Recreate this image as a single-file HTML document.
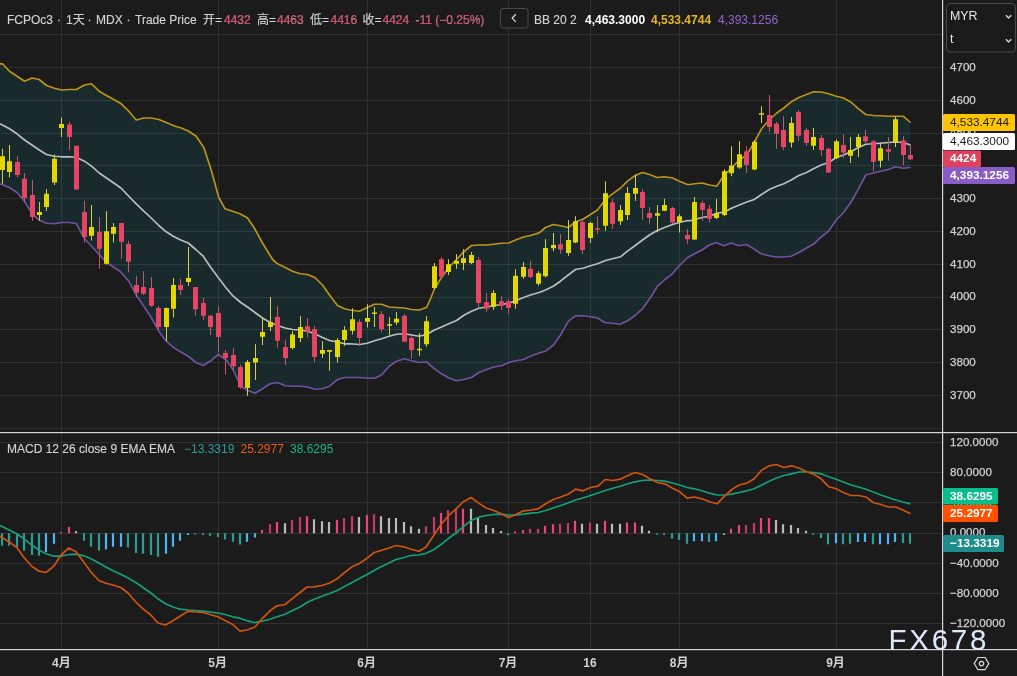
<!DOCTYPE html>
<html lang="zh"><head><meta charset="utf-8"><title>FCPOc3 chart</title>
<style>
html,body{margin:0;padding:0;background:#1b1b1b;}
body{width:1017px;height:676px;overflow:hidden;position:relative;font-family:"Liberation Sans","Noto Sans CJK SC",sans-serif;}
svg{position:absolute;left:0;top:0;display:block}
text{font-family:"Liberation Sans","Noto Sans CJK SC",sans-serif;}
.ax{font-size:11.6px;fill:#d0d0d0;stroke:#d0d0d0;stroke-width:0.25px}
.lg{font-size:12px;fill:#d2d2d2;stroke:#d2d2d2;stroke-width:0.15px}
.tm{font-size:12px;fill:#d2d2d2;font-weight:bold;text-anchor:middle}
.lb{font-size:11.6px;font-weight:bold;fill:#fff}
</style></head><body>
<svg width="1017" height="676" viewBox="0 0 1017 676">
<rect width="1017" height="676" fill="#1b1b1b"/>

<path d="M0,34.5H942 M0,67.5H942 M0,100.5H942 M0,133.5H942 M0,165.5H942 M0,198.5H942 M0,231.5H942 M0,264.5H942 M0,297.5H942 M0,329.5H942 M0,362.5H942 M0,395.5H942 M0,428.5H942 M0,442.5H942 M0,472.5H942 M0,502.5H942 M0,533.5H942 M0,563.5H942 M0,593.5H942 M0,623.5H942 M61.5,0V649 M218.5,0V649 M367.5,0V649 M508.5,0V649 M590.5,0V649 M679.5,0V649 M836.5,0V649" stroke="#303030" stroke-width="1" fill="none"/>
<clipPath id="cm"><rect x="0" y="0" width="942" height="432"/></clipPath>
<clipPath id="cd"><rect x="0" y="433" width="942" height="216"/></clipPath>
<g clip-path="url(#cm)">
<path d="M0.0,63.8 L2.5,63.8 L9.5,71.2 L17.0,76.2 L24.5,81.2 L32.0,78.0 L39.2,79.5 L46.5,85.5 L54.2,88.2 L61.5,90.0 L69.2,89.5 L76.5,89.5 L84.5,85.0 L91.5,83.8 L99.2,91.2 L106.5,95.5 L113.8,99.5 L121.2,103.8 L128.8,111.2 L136.2,120.0 L143.8,118.0 L151.2,118.0 L158.8,119.5 L166.2,122.5 L173.8,125.8 L181.2,128.0 L188.8,131.2 L196.2,136.2 L203.8,147.5 L211.2,170.0 L218.8,197.5 L225.0,208.8 L232.5,211.2 L240.0,213.8 L247.5,218.0 L254.0,227.5 L261.9,242.0 L268.6,253.0 L273.0,260.0 L277.5,263.8 L285.2,267.5 L292.5,271.2 L300.2,273.8 L307.5,274.5 L314.8,277.5 L322.5,285.0 L329.5,295.0 L337.5,305.5 L344.5,308.8 L350.0,310.0 L359.5,311.2 L367.2,307.5 L374.5,304.2 L381.5,304.2 L389.2,307.0 L396.5,307.5 L404.5,308.0 L411.5,309.5 L419.2,310.0 L426.5,307.5 L430.0,300.0 L434.5,288.8 L441.5,277.5 L448.8,267.5 L456.5,259.5 L463.5,252.0 L471.5,245.5 L478.8,245.0 L486.5,245.0 L493.5,244.2 L501.5,243.2 L508.8,243.0 L515.5,240.0 L523.5,237.0 L530.5,235.5 L539.2,232.9 L545.5,227.5 L553.2,224.5 L560.5,225.8 L568.2,227.5 L575.5,222.0 L582.8,219.2 L590.5,214.5 L597.5,210.0 L605.5,199.2 L612.5,193.8 L620.5,188.0 L627.5,181.2 L635.2,175.5 L642.5,172.5 L649.5,174.5 L657.2,177.5 L664.5,176.8 L672.5,178.0 L679.5,181.2 L687.5,184.5 L690.0,184.5 L694.5,183.8 L702.2,183.0 L709.5,185.0 L716.8,186.2 L724.2,175.0 L731.5,168.0 L739.2,160.0 L746.8,155.0 L754.2,142.5 L761.5,128.8 L769.2,120.0 L776.8,113.0 L783.8,108.0 L791.2,101.8 L798.8,97.5 L806.5,94.5 L813.5,91.8 L821.2,92.0 L828.5,93.8 L836.2,96.2 L843.5,98.0 L850.8,102.0 L858.5,108.8 L865.8,114.5 L873.5,115.5 L880.5,115.8 L888.5,116.2 L895.5,116.2 L903.2,116.2 L910.5,122.5 L910.5,167.5 L903.2,168.2 L895.5,166.8 L888.5,169.5 L880.5,171.2 L873.5,173.0 L865.8,175.0 L858.5,188.8 L850.8,202.5 L843.5,212.5 L836.2,220.0 L828.5,231.2 L818.8,239.0 L814.0,243.8 L806.2,248.2 L798.8,252.5 L791.2,256.2 L783.8,257.0 L776.2,257.0 L768.8,255.8 L761.2,253.8 L753.8,248.8 L746.2,244.5 L738.8,245.8 L731.2,243.0 L723.8,245.8 L716.2,242.5 L709.5,245.0 L702.0,250.0 L694.5,253.8 L687.0,258.0 L679.5,265.5 L672.0,274.2 L665.0,279.5 L657.5,286.2 L650.0,298.2 L642.5,308.8 L635.0,315.5 L627.5,320.8 L620.0,324.2 L612.5,323.2 L604.5,322.5 L597.5,318.0 L590.5,316.8 L582.8,315.8 L575.5,315.8 L568.5,321.2 L560.5,335.0 L553.5,345.0 L545.5,351.2 L538.5,353.2 L530.5,356.2 L523.5,359.5 L515.5,360.8 L508.8,362.5 L501.5,365.8 L493.5,367.0 L486.5,369.5 L478.8,372.5 L471.5,377.5 L463.5,379.5 L456.5,380.8 L448.8,378.0 L441.5,373.8 L434.5,368.8 L426.5,362.0 L419.2,362.5 L411.5,360.8 L404.5,358.8 L396.5,361.2 L389.2,366.2 L381.5,375.0 L374.5,378.2 L367.2,378.2 L359.5,377.5 L350.0,377.5 L344.5,377.5 L337.5,379.5 L329.5,386.2 L322.5,388.8 L314.8,389.2 L307.5,387.0 L300.2,386.2 L292.5,386.2 L285.2,385.8 L277.5,382.5 L270.2,383.8 L262.5,388.8 L255.0,393.2 L247.8,390.5 L240.8,386.2 L233.2,370.0 L225.8,359.5 L218.2,354.5 L210.8,360.8 L203.2,365.5 L195.8,362.5 L188.2,356.2 L180.8,352.0 L173.5,347.5 L166.2,341.2 L158.8,331.2 L151.2,317.5 L143.8,306.2 L136.2,295.0 L128.8,281.2 L120.0,271.2 L106.5,262.5 L99.2,254.5 L91.5,246.2 L84.5,238.8 L76.5,223.8 L69.2,222.5 L61.5,222.5 L54.2,223.8 L46.5,223.2 L39.2,220.0 L32.0,213.8 L24.5,201.2 L17.0,192.5 L9.5,187.5 L0.0,183.8Z" fill="rgba(19,169,185,0.115)" stroke="none"/>
<path d="M0.0,63.8 L2.5,63.8 L9.5,71.2 L17.0,76.2 L24.5,81.2 L32.0,78.0 L39.2,79.5 L46.5,85.5 L54.2,88.2 L61.5,90.0 L69.2,89.5 L76.5,89.5 L84.5,85.0 L91.5,83.8 L99.2,91.2 L106.5,95.5 L113.8,99.5 L121.2,103.8 L128.8,111.2 L136.2,120.0 L143.8,118.0 L151.2,118.0 L158.8,119.5 L166.2,122.5 L173.8,125.8 L181.2,128.0 L188.8,131.2 L196.2,136.2 L203.8,147.5 L211.2,170.0 L218.8,197.5 L225.0,208.8 L232.5,211.2 L240.0,213.8 L247.5,218.0 L254.0,227.5 L261.9,242.0 L268.6,253.0 L273.0,260.0 L277.5,263.8 L285.2,267.5 L292.5,271.2 L300.2,273.8 L307.5,274.5 L314.8,277.5 L322.5,285.0 L329.5,295.0 L337.5,305.5 L344.5,308.8 L350.0,310.0 L359.5,311.2 L367.2,307.5 L374.5,304.2 L381.5,304.2 L389.2,307.0 L396.5,307.5 L404.5,308.0 L411.5,309.5 L419.2,310.0 L426.5,307.5 L430.0,300.0 L434.5,288.8 L441.5,277.5 L448.8,267.5 L456.5,259.5 L463.5,252.0 L471.5,245.5 L478.8,245.0 L486.5,245.0 L493.5,244.2 L501.5,243.2 L508.8,243.0 L515.5,240.0 L523.5,237.0 L530.5,235.5 L539.2,232.9 L545.5,227.5 L553.2,224.5 L560.5,225.8 L568.2,227.5 L575.5,222.0 L582.8,219.2 L590.5,214.5 L597.5,210.0 L605.5,199.2 L612.5,193.8 L620.5,188.0 L627.5,181.2 L635.2,175.5 L642.5,172.5 L649.5,174.5 L657.2,177.5 L664.5,176.8 L672.5,178.0 L679.5,181.2 L687.5,184.5 L690.0,184.5 L694.5,183.8 L702.2,183.0 L709.5,185.0 L716.8,186.2 L724.2,175.0 L731.5,168.0 L739.2,160.0 L746.8,155.0 L754.2,142.5 L761.5,128.8 L769.2,120.0 L776.8,113.0 L783.8,108.0 L791.2,101.8 L798.8,97.5 L806.5,94.5 L813.5,91.8 L821.2,92.0 L828.5,93.8 L836.2,96.2 L843.5,98.0 L850.8,102.0 L858.5,108.8 L865.8,114.5 L873.5,115.5 L880.5,115.8 L888.5,116.2 L895.5,116.2 L903.2,116.2 L910.5,122.5" fill="none" stroke="#be9416" stroke-width="1.65" stroke-linejoin="round"/>
<path d="M0.0,183.8 L9.5,187.5 L17.0,192.5 L24.5,201.2 L32.0,213.8 L39.2,220.0 L46.5,223.2 L54.2,223.8 L61.5,222.5 L69.2,222.5 L76.5,223.8 L84.5,238.8 L91.5,246.2 L99.2,254.5 L106.5,262.5 L120.0,271.2 L128.8,281.2 L136.2,295.0 L143.8,306.2 L151.2,317.5 L158.8,331.2 L166.2,341.2 L173.5,347.5 L180.8,352.0 L188.2,356.2 L195.8,362.5 L203.2,365.5 L210.8,360.8 L218.2,354.5 L225.8,359.5 L233.2,370.0 L240.8,386.2 L247.8,390.5 L255.0,393.2 L262.5,388.8 L270.2,383.8 L277.5,382.5 L285.2,385.8 L292.5,386.2 L300.2,386.2 L307.5,387.0 L314.8,389.2 L322.5,388.8 L329.5,386.2 L337.5,379.5 L344.5,377.5 L350.0,377.5 L359.5,377.5 L367.2,378.2 L374.5,378.2 L381.5,375.0 L389.2,366.2 L396.5,361.2 L404.5,358.8 L411.5,360.8 L419.2,362.5 L426.5,362.0 L434.5,368.8 L441.5,373.8 L448.8,378.0 L456.5,380.8 L463.5,379.5 L471.5,377.5 L478.8,372.5 L486.5,369.5 L493.5,367.0 L501.5,365.8 L508.8,362.5 L515.5,360.8 L523.5,359.5 L530.5,356.2 L538.5,353.2 L545.5,351.2 L553.5,345.0 L560.5,335.0 L568.5,321.2 L575.5,315.8 L582.8,315.8 L590.5,316.8 L597.5,318.0 L604.5,322.5 L612.5,323.2 L620.0,324.2 L627.5,320.8 L635.0,315.5 L642.5,308.8 L650.0,298.2 L657.5,286.2 L665.0,279.5 L672.0,274.2 L679.5,265.5 L687.0,258.0 L694.5,253.8 L702.0,250.0 L709.5,245.0 L716.2,242.5 L723.8,245.8 L731.2,243.0 L738.8,245.8 L746.2,244.5 L753.8,248.8 L761.2,253.8 L768.8,255.8 L776.2,257.0 L783.8,257.0 L791.2,256.2 L798.8,252.5 L806.2,248.2 L814.0,243.8 L818.8,239.0 L828.5,231.2 L836.2,220.0 L843.5,212.5 L850.8,202.5 L858.5,188.8 L865.8,175.0 L873.5,173.0 L880.5,171.2 L888.5,169.5 L895.5,166.8 L903.2,168.2 L910.5,167.5" fill="none" stroke="#7151a0" stroke-width="1.65" stroke-linejoin="round"/>
<path d="M0.0,123.8 L9.5,128.8 L17.0,133.8 L24.5,140.0 L32.0,145.0 L39.2,150.0 L46.5,154.5 L54.2,156.2 L61.5,156.8 L69.2,156.8 L76.5,157.5 L84.5,161.2 L91.5,166.2 L99.2,173.0 L106.5,178.0 L113.8,183.0 L121.2,188.2 L128.8,196.2 L136.2,203.8 L143.8,211.2 L151.2,218.0 L158.8,225.5 L166.2,231.8 L173.2,236.2 L180.8,240.0 L188.2,243.0 L195.8,249.5 L203.2,256.2 L210.8,267.5 L218.2,277.5 L225.8,287.5 L233.2,296.2 L240.8,302.5 L248.2,307.5 L255.0,312.5 L262.5,318.0 L270.2,322.5 L277.5,325.5 L285.2,328.0 L292.5,329.5 L300.2,330.0 L307.5,331.2 L314.8,333.8 L322.5,337.5 L329.5,340.5 L337.5,342.0 L344.5,343.8 L350.0,343.8 L359.5,344.5 L367.2,343.2 L374.5,340.8 L381.5,338.8 L389.2,336.2 L396.5,334.2 L404.5,333.8 L411.5,335.0 L419.2,336.2 L426.5,334.5 L434.5,330.0 L441.5,327.0 L448.8,323.8 L456.5,320.5 L463.5,315.5 L471.5,311.2 L478.8,308.2 L486.5,307.0 L493.5,305.8 L501.5,304.5 L508.8,303.2 L515.5,300.8 L523.5,297.5 L530.5,295.0 L539.2,292.5 L545.5,290.0 L553.2,286.2 L560.5,281.2 L568.2,275.0 L575.5,269.5 L582.8,268.2 L590.5,265.8 L597.5,263.8 L605.5,260.5 L612.5,258.8 L620.5,256.8 L627.5,251.2 L635.2,245.5 L642.5,240.0 L649.5,235.0 L657.2,230.5 L664.5,227.5 L672.5,224.5 L679.5,222.5 L687.5,220.5 L690.0,220.8 L694.5,219.5 L702.2,217.5 L709.5,216.2 L716.8,213.2 L724.2,212.0 L731.5,208.2 L739.2,205.0 L746.8,202.0 L754.2,199.5 L761.5,194.5 L769.2,189.5 L776.8,186.2 L783.8,183.8 L791.2,180.0 L798.8,175.5 L806.5,172.5 L813.5,168.8 L821.2,165.0 L828.5,162.5 L836.2,157.5 L843.5,155.0 L850.8,151.8 L858.5,147.5 L865.8,144.2 L873.5,143.8 L880.5,143.2 L888.5,142.5 L895.5,142.0 L903.2,142.5 L910.5,145.0" fill="none" stroke="#bbbfbf" stroke-width="1.65" stroke-linejoin="round"/>
<path d="M2.5,148.8V183.8 M9.5,145.0V177.5 M39.5,202.0V220.8 M46.5,189.0V210.8 M54.5,154.5V185.0 M61.5,117.5V137.0 M91.5,205.0V240.5 M106.5,211.2V264.5 M113.5,223.0V242.5 M166.5,307.5V341.2 M173.5,278.0V317.5 M188.5,247.0V285.8 M247.5,360.0V395.8 M255.5,344.2V380.0 M262.5,317.0V345.0 M270.5,297.0V331.2 M292.5,331.2V349.5 M300.5,316.2V342.0 M322.5,341.2V358.0 M329.5,350.0V370.8 M337.5,338.2V362.5 M344.5,326.2V345.8 M352.5,308.2V334.5 M367.5,304.2V327.5 M374.5,307.0V327.0 M389.5,317.0V335.0 M396.5,312.0V325.0 M419.5,333.2V355.8 M426.5,316.2V346.8 M434.5,263.0V288.8 M448.5,259.2V275.0 M456.5,254.2V268.8 M463.5,249.2V270.0 M471.5,252.0V264.2 M493.5,290.0V310.0 M515.5,269.2V308.8 M523.5,262.0V278.8 M538.5,271.2V285.8 M545.5,239.2V277.5 M553.5,233.0V251.2 M568.5,220.0V255.8 M575.5,216.2V243.2 M590.5,221.8V243.0 M605.5,181.2V230.8 M620.5,205.0V225.0 M627.5,187.0V220.0 M635.5,174.5V200.8 M657.5,205.0V232.5 M664.5,198.8V211.2 M679.5,214.2V232.5 M694.5,197.0V240.0 M716.5,198.8V219.2 M724.5,169.2V216.2 M731.5,146.2V176.2 M739.5,141.2V168.8 M754.5,140.0V170.0 M761.5,106.2V123.0 M791.5,117.0V147.5 M813.5,128.0V150.0 M836.5,139.5V158.8 M850.5,137.0V163.0 M858.5,134.2V157.0 M880.5,142.5V167.5 M895.5,116.2V147.0" stroke="#d6cf4a" stroke-width="1" fill="none"/>
<path d="M17.5,156.2V177.0 M24.5,173.0V202.5 M32.5,180.0V220.8 M69.5,122.0V150.0 M76.5,145.8V189.5 M84.5,200.8V242.5 M99.5,217.0V268.8 M121.5,223.0V258.8 M128.5,240.8V272.5 M136.5,275.8V297.0 M143.5,271.2V295.0 M151.5,277.0V306.8 M158.5,306.2V330.0 M180.5,278.8V295.0 M195.5,287.0V315.5 M203.5,298.0V320.0 M210.5,315.0V335.0 M218.5,306.2V352.5 M225.5,350.0V374.5 M233.5,348.0V370.0 M240.5,364.5V388.8 M277.5,306.2V347.5 M285.5,339.5V365.0 M307.5,318.0V337.5 M314.5,326.2V362.0 M359.5,319.2V346.2 M381.5,311.2V332.5 M404.5,314.2V341.8 M411.5,336.2V358.8 M441.5,257.0V278.0 M478.5,256.8V307.5 M486.5,293.0V311.8 M501.5,296.2V310.0 M508.5,299.2V313.8 M530.5,260.8V278.0 M560.5,234.2V253.8 M582.5,218.0V254.2 M597.5,216.2V233.8 M612.5,198.8V228.8 M642.5,189.2V220.0 M649.5,207.0V223.8 M672.5,207.0V223.8 M687.5,229.2V243.8 M702.5,200.8V220.8 M709.5,205.0V222.5 M746.5,146.2V173.0 M769.5,95.0V131.8 M776.5,122.0V148.8 M783.5,116.2V150.0 M798.5,110.0V140.8 M806.5,128.0V145.8 M821.5,135.0V155.8 M828.5,148.2V172.5 M843.5,134.2V158.2 M865.5,130.0V143.0 M873.5,140.0V171.2 M888.5,137.0V160.8 M903.5,136.2V165.0 M910.5,144.2V160.0" stroke="#c4566e" stroke-width="1" fill="none"/>
<path d="M0.0,156.2h5V170.0h-5Z M7.0,161.2h5V172.0h-5Z M37.0,212.0h5V215.0h-5Z M44.0,193.8h5V207.0h-5Z M52.0,158.8h5V182.5h-5Z M59.0,124.0h5V128.0h-5Z M89.0,227.0h5V235.8h-5Z M104.0,231.2h5V263.8h-5Z M111.0,227.0h5V233.8h-5Z M164.0,308.0h5V327.0h-5Z M171.0,285.0h5V308.8h-5Z M186.0,278.0h5V282.0h-5Z M245.0,362.0h5V388.0h-5Z M253.0,358.0h5V362.5h-5Z M260.0,332.0h5V336.8h-5Z M268.0,322.0h5V327.0h-5Z M290.0,334.5h5V348.0h-5Z M298.0,327.0h5V338.0h-5Z M320.0,350.0h5V353.8h-5Z M327.0,350.0h5V351.8h-5Z M335.0,340.0h5V357.0h-5Z M342.0,330.0h5V340.0h-5Z M350.0,319.2h5V330.8h-5Z M365.0,318.0h5V321.8h-5Z M372.0,312.5h5V314.0h-5Z M387.0,324.2h5V325.8h-5Z M394.0,318.8h5V322.5h-5Z M417.0,348.8h5V350.2h-5Z M424.0,321.2h5V344.2h-5Z M432.0,266.2h5V288.0h-5Z M446.0,264.2h5V272.0h-5Z M454.0,260.8h5V263.8h-5Z M461.0,258.2h5V263.0h-5Z M469.0,255.0h5V263.0h-5Z M491.0,293.0h5V306.8h-5Z M513.0,275.8h5V303.8h-5Z M521.0,267.0h5V276.8h-5Z M536.0,273.2h5V283.8h-5Z M543.0,248.0h5V276.2h-5Z M551.0,245.0h5V248.2h-5Z M566.0,240.0h5V253.0h-5Z M573.0,221.2h5V242.5h-5Z M588.0,223.0h5V238.0h-5Z M603.0,193.2h5V225.8h-5Z M618.0,210.0h5V221.2h-5Z M625.0,193.0h5V215.0h-5Z M633.0,188.0h5V193.8h-5Z M655.0,213.2h5V215.8h-5Z M662.0,205.0h5V210.8h-5Z M677.0,216.2h5V222.0h-5Z M692.0,202.0h5V239.5h-5Z M714.0,213.2h5V218.0h-5Z M722.0,171.2h5V215.0h-5Z M729.0,165.5h5V173.2h-5Z M737.0,154.2h5V167.5h-5Z M752.0,141.8h5V169.5h-5Z M759.0,113.2h5V114.8h-5Z M789.0,123.0h5V142.5h-5Z M811.0,137.0h5V145.8h-5Z M834.0,141.2h5V158.2h-5Z M848.0,150.0h5V155.8h-5Z M856.0,137.0h5V147.0h-5Z M878.0,148.2h5V160.8h-5Z M893.0,119.2h5V142.5h-5Z" fill="#e2d800"/>
<path d="M15.0,162.0h5V175.0h-5Z M22.0,178.8h5V198.0h-5Z M30.0,195.0h5V217.0h-5Z M67.0,124.5h5V137.0h-5Z M74.0,145.8h5V189.5h-5Z M82.0,212.0h5V237.0h-5Z M97.0,232.0h5V248.8h-5Z M119.0,223.0h5V241.8h-5Z M126.0,244.0h5V261.8h-5Z M134.0,285.0h5V292.5h-5Z M141.0,287.0h5V293.8h-5Z M149.0,288.0h5V305.8h-5Z M156.0,308.0h5V327.0h-5Z M178.0,285.0h5V290.0h-5Z M193.0,287.0h5V309.2h-5Z M201.0,303.0h5V315.8h-5Z M208.0,315.8h5V327.0h-5Z M216.0,313.0h5V337.0h-5Z M223.0,353.0h5V358.0h-5Z M231.0,355.0h5V366.2h-5Z M238.0,367.0h5V387.5h-5Z M275.0,317.0h5V340.8h-5Z M283.0,347.0h5V358.0h-5Z M305.0,326.2h5V331.8h-5Z M312.0,329.2h5V357.0h-5Z M357.0,322.0h5V338.0h-5Z M379.0,314.2h5V329.2h-5Z M402.0,315.8h5V341.8h-5Z M409.0,338.0h5V350.0h-5Z M439.0,259.2h5V276.8h-5Z M476.0,260.0h5V303.0h-5Z M484.0,302.0h5V308.8h-5Z M499.0,301.2h5V305.8h-5Z M506.0,301.2h5V308.0h-5Z M528.0,268.8h5V277.0h-5Z M558.0,244.2h5V249.5h-5Z M580.0,222.0h5V250.0h-5Z M595.0,228.2h5V229.8h-5Z M610.0,202.5h5V223.8h-5Z M640.0,192.0h5V208.0h-5Z M647.0,213.0h5V218.0h-5Z M670.0,208.0h5V222.5h-5Z M685.0,235.0h5V239.2h-5Z M700.0,203.0h5V210.0h-5Z M707.0,208.8h5V218.8h-5Z M744.0,151.2h5V165.0h-5Z M767.0,115.0h5V127.0h-5Z M774.0,123.8h5V133.8h-5Z M781.0,130.0h5V147.0h-5Z M796.0,112.0h5V135.8h-5Z M804.0,130.0h5V143.0h-5Z M819.0,138.0h5V150.0h-5Z M826.0,148.8h5V172.5h-5Z M841.0,145.0h5V152.5h-5Z M863.0,136.2h5V141.2h-5Z M871.0,141.2h5V161.8h-5Z M886.0,149.2h5V151.8h-5Z M901.0,140.5h5V155.0h-5Z M908.0,155.0h5V159.2h-5Z" fill="#e84464"/>
</g>
<g clip-path="url(#cd)">
<path d="M0.9,533.2h2.2V545.8h-2.2Z M7.9,533.2h2.2V545.8h-2.2Z M15.9,533.2h2.2V547.5h-2.2Z M22.9,533.2h2.2V550.8h-2.2Z M30.9,533.2h2.2V555.0h-2.2Z M37.9,533.2h2.2V555.8h-2.2Z M82.9,533.2h2.2V540.8h-2.2Z M89.9,533.2h2.2V546.8h-2.2Z M97.9,533.2h2.2V550.8h-2.2Z M126.9,533.2h2.2V547.5h-2.2Z M134.9,533.2h2.2V553.0h-2.2Z M141.9,533.2h2.2V553.8h-2.2Z M149.9,533.2h2.2V555.0h-2.2Z M156.9,533.2h2.2V556.8h-2.2Z M193.9,533.2h2.2V534.5h-2.2Z M201.9,533.2h2.2V535.0h-2.2Z M208.9,533.2h2.2V535.8h-2.2Z M216.9,533.2h2.2V537.0h-2.2Z M223.9,533.2h2.2V539.5h-2.2Z M231.9,533.2h2.2V541.8h-2.2Z M238.9,533.2h2.2V544.5h-2.2Z M506.9,533.2h2.2V535.2h-2.2Z M655.9,533.2h2.2V534.7h-2.2Z M662.9,533.2h2.2V535.0h-2.2Z M670.9,533.2h2.2V538.8h-2.2Z M677.9,533.2h2.2V540.0h-2.2Z M685.9,533.2h2.2V543.8h-2.2Z M707.9,533.2h2.2V542.0h-2.2Z M811.9,533.2h2.2V534.7h-2.2Z M819.9,533.2h2.2V538.0h-2.2Z M826.9,533.2h2.2V544.2h-2.2Z M841.9,533.2h2.2V544.2h-2.2Z M848.9,533.2h2.2V543.8h-2.2Z M871.9,533.2h2.2V544.2h-2.2Z M901.9,533.2h2.2V543.0h-2.2Z M908.9,533.2h2.2V543.8h-2.2Z" fill="#2b9c96"/>
<path d="M44.9,533.2h2.2V552.0h-2.2Z M52.9,533.2h2.2V543.8h-2.2Z M104.9,533.2h2.2V549.5h-2.2Z M111.9,533.2h2.2V546.8h-2.2Z M119.9,533.2h2.2V546.8h-2.2Z M164.9,533.2h2.2V553.8h-2.2Z M171.9,533.2h2.2V546.8h-2.2Z M178.9,533.2h2.2V540.8h-2.2Z M186.9,533.2h2.2V535.0h-2.2Z M245.9,533.2h2.2V541.8h-2.2Z M253.9,533.2h2.2V537.5h-2.2Z M692.9,533.2h2.2V541.2h-2.2Z M700.9,533.2h2.2V541.2h-2.2Z M714.9,533.2h2.2V541.2h-2.2Z M722.9,533.2h2.2V535.0h-2.2Z M834.9,533.2h2.2V543.2h-2.2Z M856.9,533.2h2.2V542.0h-2.2Z M863.9,533.2h2.2V542.0h-2.2Z M878.9,533.2h2.2V544.2h-2.2Z M886.9,533.2h2.2V544.2h-2.2Z M893.9,533.2h2.2V542.0h-2.2Z" fill="#4db4f5"/>
<path d="M59.9,532.0h2.2V533.2h-2.2Z M67.9,527.0h2.2V533.2h-2.2Z M260.9,530.0h2.2V533.2h-2.2Z M275.9,522.0h2.2V533.2h-2.2Z M305.9,516.2h2.2V533.2h-2.2Z M335.9,520.0h2.2V533.2h-2.2Z M365.9,515.0h2.2V533.2h-2.2Z M439.9,513.0h2.2V533.2h-2.2Z M461.9,508.8h2.2V533.2h-2.2Z M513.9,531.5h2.2V533.2h-2.2Z M521.9,530.0h2.2V533.2h-2.2Z M543.9,525.8h2.2V533.2h-2.2Z M551.9,524.2h2.2V533.2h-2.2Z M573.9,520.8h2.2V533.2h-2.2Z M603.9,520.8h2.2V533.2h-2.2Z M625.9,522.5h2.2V533.2h-2.2Z M633.9,522.5h2.2V533.2h-2.2Z M729.9,528.8h2.2V533.2h-2.2Z M737.9,525.0h2.2V533.2h-2.2Z M759.9,518.0h2.2V533.2h-2.2Z M767.9,518.0h2.2V533.2h-2.2Z" fill="#f0427c"/>
<path d="M268.9,524.2h2.2V533.2h-2.2Z M290.9,520.0h2.2V533.2h-2.2Z M298.9,517.0h2.2V533.2h-2.2Z M342.9,518.0h2.2V533.2h-2.2Z M350.9,516.2h2.2V533.2h-2.2Z M372.9,514.2h2.2V533.2h-2.2Z M424.9,526.2h2.2V533.2h-2.2Z M432.9,517.0h2.2V533.2h-2.2Z M446.9,510.0h2.2V533.2h-2.2Z M454.9,508.8h2.2V533.2h-2.2Z M528.9,528.8h2.2V533.2h-2.2Z M536.9,528.8h2.2V533.2h-2.2Z M558.9,523.8h2.2V533.2h-2.2Z M566.9,523.0h2.2V533.2h-2.2Z M588.9,522.5h2.2V533.2h-2.2Z M744.9,525.0h2.2V533.2h-2.2Z M752.9,523.0h2.2V533.2h-2.2Z" fill="#c23a68"/>
<path d="M74.9,531.2h2.2V533.2h-2.2Z M283.9,523.2h2.2V533.2h-2.2Z M312.9,519.2h2.2V533.2h-2.2Z M320.9,521.2h2.2V533.2h-2.2Z M327.9,522.0h2.2V533.2h-2.2Z M357.9,517.0h2.2V533.2h-2.2Z M379.9,516.2h2.2V533.2h-2.2Z M387.9,518.0h2.2V533.2h-2.2Z M394.9,518.0h2.2V533.2h-2.2Z M402.9,522.0h2.2V533.2h-2.2Z M409.9,526.2h2.2V533.2h-2.2Z M417.9,528.8h2.2V533.2h-2.2Z M469.9,508.8h2.2V533.2h-2.2Z M476.9,518.0h2.2V533.2h-2.2Z M484.9,525.0h2.2V533.2h-2.2Z M491.9,528.0h2.2V533.2h-2.2Z M499.9,531.0h2.2V533.2h-2.2Z M580.9,523.8h2.2V533.2h-2.2Z M595.9,523.8h2.2V533.2h-2.2Z M610.9,523.8h2.2V533.2h-2.2Z M618.9,523.8h2.2V533.2h-2.2Z M640.9,525.8h2.2V533.2h-2.2Z M647.9,530.8h2.2V533.2h-2.2Z M774.9,520.0h2.2V533.2h-2.2Z M781.9,524.2h2.2V533.2h-2.2Z M789.9,525.0h2.2V533.2h-2.2Z M796.9,528.0h2.2V533.2h-2.2Z M804.9,530.8h2.2V533.2h-2.2Z" fill="#bababa"/>
<path d="M0.0,525.5 L9.2,530.0 L16.8,533.8 L24.0,538.8 L31.8,545.0 L39.0,550.0 L46.0,553.8 L53.8,556.2 L61.0,556.2 L68.8,554.5 L76.0,554.2 L84.0,555.8 L91.0,558.8 L98.8,563.0 L106.0,567.0 L113.0,570.8 L120.8,574.2 L128.0,578.0 L135.8,582.5 L143.0,587.5 L150.8,593.0 L158.0,598.8 L165.5,603.8 L173.0,607.0 L180.0,609.2 L188.0,610.0 L195.0,610.5 L203.0,611.2 L210.0,612.0 L218.0,613.0 L225.0,614.5 L232.8,616.8 L240.0,618.2 L247.0,620.8 L255.0,622.5 L262.0,621.2 L270.0,619.2 L277.0,616.8 L285.0,614.2 L292.0,610.8 L300.0,607.0 L307.0,602.5 L314.0,599.2 L322.0,596.2 L329.0,593.8 L337.0,590.5 L344.0,586.8 L352.0,582.5 L359.0,578.8 L367.0,574.5 L374.2,570.5 L381.0,566.8 L389.0,563.0 L396.0,559.5 L404.0,557.5 L411.0,555.5 L419.0,555.0 L426.0,553.2 L434.0,549.5 L441.0,544.5 L448.0,538.8 L456.0,533.0 L463.0,526.8 L471.0,520.5 L479.0,517.2 L486.2,515.5 L493.8,514.5 L501.2,514.2 L508.5,515.0 L516.0,515.0 L523.5,514.2 L531.0,513.2 L538.2,512.5 L545.8,510.5 L553.2,508.0 L560.8,505.5 L568.0,503.0 L575.5,500.0 L583.0,498.0 L590.5,495.5 L598.0,493.0 L605.2,490.5 L612.8,488.2 L620.2,486.2 L627.8,483.8 L635.0,481.8 L642.5,480.5 L650.0,480.0 L657.5,480.5 L665.0,481.2 L672.5,483.0 L679.8,485.0 L687.2,487.5 L694.5,488.8 L702.0,490.8 L709.5,493.2 L717.0,495.0 L724.5,495.0 L731.8,494.2 L739.2,492.5 L746.8,490.8 L754.2,488.8 L761.8,485.0 L769.2,481.2 L776.5,478.0 L784.0,475.5 L791.5,473.8 L799.0,472.0 L806.5,472.0 L813.8,472.5 L821.2,473.8 L828.8,476.8 L836.2,479.2 L843.5,482.0 L851.0,485.0 L858.5,487.0 L866.0,489.2 L873.2,492.0 L880.8,495.0 L888.2,497.5 L895.8,500.0 L903.0,502.0 L910.5,503.8" fill="none" stroke="#14a078" stroke-width="1.7" stroke-linejoin="round"/>
<path d="M0.0,536.2 L9.2,542.0 L16.8,547.5 L24.0,557.5 L31.8,566.2 L39.0,571.2 L46.0,572.5 L53.8,566.2 L61.0,555.0 L68.8,548.0 L76.0,551.8 L84.0,562.5 L91.0,572.0 L98.8,580.5 L106.0,583.2 L113.0,585.0 L120.8,587.5 L128.0,593.0 L135.8,602.0 L143.0,608.8 L150.8,615.0 L158.0,623.0 L165.5,625.0 L173.0,620.8 L180.0,616.2 L188.0,611.2 L195.0,612.0 L203.0,612.5 L210.0,614.5 L218.0,616.8 L225.0,620.5 L232.8,624.5 L240.0,631.2 L247.0,630.0 L255.0,627.0 L262.0,618.8 L270.0,610.8 L277.0,605.8 L285.0,604.5 L292.0,598.8 L300.0,592.5 L307.0,587.0 L314.0,586.8 L322.0,585.5 L329.0,583.2 L337.0,578.8 L344.0,573.0 L352.0,566.8 L359.0,563.8 L367.0,558.2 L374.2,552.5 L381.0,550.5 L389.0,548.0 L396.0,545.5 L404.0,546.8 L411.0,549.2 L419.0,551.2 L426.0,547.0 L434.0,535.0 L441.0,524.5 L448.0,516.2 L456.0,508.8 L463.0,502.0 L471.0,497.5 L479.0,503.4 L486.2,508.0 L493.8,510.5 L501.2,513.8 L508.5,517.5 L516.0,514.5 L523.5,510.8 L531.0,510.0 L538.2,508.8 L545.8,503.8 L553.2,499.5 L560.8,497.0 L568.0,494.2 L575.5,489.2 L583.0,490.8 L590.5,487.5 L598.0,486.2 L605.2,479.5 L612.8,480.5 L620.2,479.2 L627.8,475.5 L635.0,472.5 L642.5,474.5 L650.0,478.8 L657.5,482.5 L665.0,483.8 L672.5,488.2 L679.8,491.8 L687.2,498.2 L694.5,497.0 L702.0,498.8 L709.5,501.8 L717.0,503.8 L724.5,496.2 L731.8,489.5 L739.2,485.0 L746.8,483.2 L754.2,478.8 L761.8,470.0 L769.2,465.8 L776.5,464.5 L784.0,467.5 L791.5,465.8 L799.0,468.0 L806.5,471.8 L813.8,474.2 L821.2,478.8 L828.8,486.8 L836.2,488.8 L843.5,492.5 L851.0,495.5 L858.5,495.5 L866.0,497.0 L873.2,502.5 L880.8,504.5 L888.2,507.0 L895.8,507.0 L903.0,510.0 L910.5,513.8" fill="none" stroke="#d2520f" stroke-width="1.7" stroke-linejoin="round"/>
</g>
<rect x="942" y="0" width="1.2" height="676" fill="#d6d6d6"/>
<rect x="0" y="432" width="1017" height="1.2" fill="#d6d6d6"/>
<rect x="0" y="649" width="1017" height="1.2" fill="#d6d6d6"/>
<text class="ax" x="950" y="70.8">4700</text>
<text class="ax" x="950" y="103.6">4600</text>
<text class="ax" x="950" y="136.4">4500</text>
<text class="ax" x="950" y="169.2">4400</text>
<text class="ax" x="950" y="202.0">4300</text>
<text class="ax" x="950" y="234.8">4200</text>
<text class="ax" x="950" y="267.6">4100</text>
<text class="ax" x="950" y="300.4">4000</text>
<text class="ax" x="950" y="333.2">3900</text>
<text class="ax" x="950" y="366.0">3800</text>
<text class="ax" x="950" y="398.8">3700</text>
<text class="ax" x="950" y="445.8">120.0000</text>
<text class="ax" x="950" y="476.0">80.0000</text>
<text class="ax" x="950" y="506.2">40.0000</text>
<text class="ax" x="950" y="536.4">0.0000</text>
<text class="ax" x="950" y="566.6">−40.0000</text>
<text class="ax" x="950" y="596.8">−80.0000</text>
<text class="ax" x="950" y="627.0">−120.0000</text>
<rect x="943" y="114" width="72.0" height="17" rx="1.5" fill="#fcc500"/>
<text x="950" y="125.9" font-size="11.8" font-weight="normal" fill="#1b1b1b">4,533.4744</text>
<rect x="943" y="133" width="72.0" height="17" rx="1.5" fill="#ffffff"/>
<text x="950" y="144.9" font-size="11.8" font-weight="normal" fill="#1b1b1b">4,463.3000</text>
<rect x="943" y="150.5" width="38.0" height="16.5" rx="1.5" fill="#e0405e"/>
<text x="950" y="162.2" font-size="11.8" font-weight="bold" fill="#ffffff">4424</text>
<rect x="943" y="167" width="72.0" height="17" rx="1.5" fill="#8a5cc8"/>
<text x="950" y="178.9" font-size="11.8" font-weight="bold" fill="#ffffff">4,393.1256</text>
<rect x="943" y="488" width="55.0" height="16.5" rx="1.5" fill="#08be8c"/>
<text x="950" y="499.6" font-size="11.8" font-weight="bold" fill="#ffffff">38.6295</text>
<rect x="943" y="505" width="55.0" height="17" rx="1.5" fill="#ff5000"/>
<text x="950" y="516.9" font-size="11.8" font-weight="bold" fill="#ffffff">25.2977</text>
<rect x="943" y="535" width="61.0" height="17" rx="1.5" fill="#1e8c8c"/>
<text x="950" y="546.9" font-size="11.8" font-weight="bold" fill="#ffffff">−13.3319</text>
<rect x="946.5" y="3.5" width="69" height="48.5" rx="3.5" fill="#1a1a1a" stroke="#4a4a4a" stroke-width="1"/>
<text x="950" y="20" font-size="12.4" fill="#e6e6e6">MYR</text>
<text x="950" y="43.2" font-size="12.4" fill="#e6e6e6">t</text>
<path d="M1005.9,15.2l2.7,2.7l2.7,-2.7M1005.9,39.2l2.7,2.7l2.7,-2.7" stroke="#e6e6e6" stroke-width="1.25" fill="none"/>
<text class="lg" x="7" y="24">FCPOc3</text>
<text class="lg" x="57" y="24">·</text>
<text class="lg" x="66" y="24">1天</text>
<text class="lg" x="87.5" y="24">·</text>
<text class="lg" x="96" y="24">MDX</text>
<text class="lg" x="126.5" y="24">·</text>
<text class="lg" x="135" y="24">Trade Price</text>
<text class="lg" x="203" y="24">开=</text>
<text class="lg" x="224" y="24" style="fill:#e0405e">4432</text>
<text class="lg" x="257" y="24">高=</text>
<text class="lg" x="277" y="24" style="fill:#e0405e">4463</text>
<text class="lg" x="310" y="24">低=</text>
<text class="lg" x="330.5" y="24" style="fill:#e0405e">4416</text>
<text class="lg" x="362.5" y="24">收=</text>
<text class="lg" x="382.5" y="24" style="fill:#e0405e">4424</text>
<text class="lg" x="415.5" y="24" style="fill:#e0405e">-11 (−0.25%)</text>
<rect x="500.5" y="8.5" width="27.5" height="19.5" rx="2.5" fill="#1b1b1b" stroke="#4a4a4a" stroke-width="1"/>
<path d="M515.8,14.3l-3.6,3.8l3.6,3.8" stroke="#d8d8d8" stroke-width="1.3" fill="none"/>
<text class="lg" x="534" y="24">BB 20 2</text>
<text x="585" y="24" font-size="12" font-weight="bold" fill="#ffffff">4,463.3000</text>
<text x="651" y="24" font-size="12" font-weight="bold" fill="#e6b422">4,533.4744</text>
<text x="718" y="24" font-size="12" fill="#9466d0">4,393.1256</text>
<text class="lg" x="7" y="453">MACD 12 26 close 9 EMA EMA</text>
<text x="184" y="453" font-size="12" fill="#2b9c96">−13.3319</text>
<text x="240.5" y="453" font-size="12" fill="#e85a1a">25.2977</text>
<text x="290" y="453" font-size="12" fill="#18b482">38.6295</text>
<text class="tm" x="61.4" y="667">4月</text>
<text class="tm" x="217.7" y="667">5月</text>
<text class="tm" x="366.6" y="667">6月</text>
<text class="tm" x="508.0" y="667">7月</text>
<text class="tm" x="589.9" y="667">16</text>
<text class="tm" x="679.2" y="667">8月</text>
<text class="tm" x="835.5" y="667">9月</text>
<text x="888.6" y="649.6" font-size="29.5" letter-spacing="2.7" fill="#dfe8fb">FX678</text>
<polygon points="988.8,663.6 985.1,669.7 977.9,669.7 974.2,663.6 977.9,657.5 985.1,657.5" fill="none" stroke="#d8d8d8" stroke-width="1.2"/>
<circle cx="981.5" cy="663.6" r="2.2" fill="none" stroke="#d8d8d8" stroke-width="1.2"/>
</svg></body></html>
